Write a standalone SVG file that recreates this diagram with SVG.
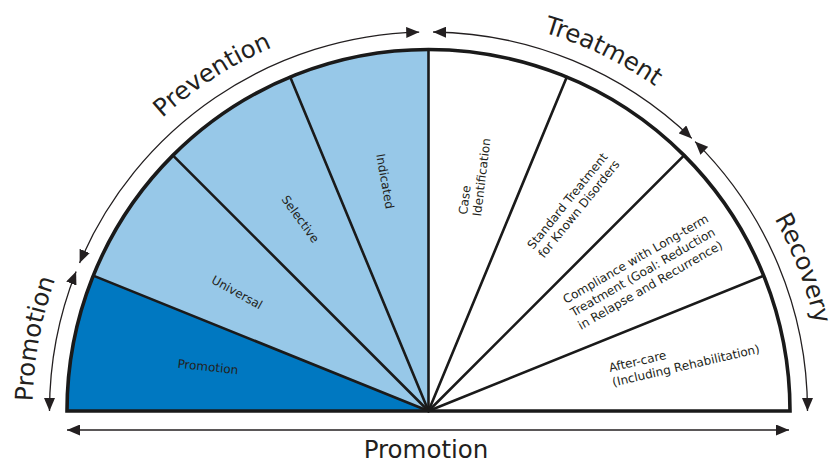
<svg xmlns="http://www.w3.org/2000/svg" width="837" height="462" viewBox="0 0 837 462">
<style>
.big{font-family:"DejaVu Sans",sans-serif;font-size:24.5px;fill:#231f20}
.lbl{font-family:"DejaVu Sans",sans-serif;font-size:12px;fill:#231f20}
.spoke{stroke:#1a1a1a;stroke-width:2.6;fill:none;stroke-linecap:round}
.arr{stroke:#231f20;stroke-width:1.3;fill:none;marker-start:url(#ah);marker-end:url(#ah)}
.dark{fill:#0078c1}
.light{fill:#97c8e8}
.white{fill:#ffffff}
</style>
<defs>
<marker id="ah" markerUnits="userSpaceOnUse" markerWidth="13" markerHeight="11" viewBox="0 0 13 11" refX="13" refY="5.5" orient="auto-start-reverse"><path d="M0,0 L13,5.5 L0,11 Z" fill="#231f20"/></marker>
<path id="tp" d="M 32.5 411 A 396 396 0 0 1 824.5 411"/>
</defs>
<rect width="837" height="462" fill="#ffffff"/>

<g id="sector-promotion">
<path class="dark" d="M428.5 411 L67 411 A361.5 361.5 0 0 1 93.3 275.6 Z"/>
<text class="lbl" transform="translate(207.5 371) rotate(6)" text-anchor="middle">Promotion</text>
</g>
<g id="sector-universal">
<path class="light" d="M428.5 411 L93.3 275.6 A361.5 361.5 0 0 1 172.9 155.4 Z"/>
<text class="lbl" transform="translate(235 296) rotate(29)" text-anchor="middle">Universal</text>
</g>
<g id="sector-selective">
<path class="light" d="M428.5 411 L172.9 155.4 A361.5 361.5 0 0 1 290.2 77 Z"/>
<text class="lbl" transform="translate(297 221.5) rotate(54)" text-anchor="middle">Selective</text>
</g>
<g id="sector-indicated">
<path class="light" d="M428.5 411 L290.2 77 A361.5 361.5 0 0 1 428.5 49.5 Z"/>
<text class="lbl" transform="translate(381 182) rotate(80)" text-anchor="middle">Indicated</text>
</g>
<g id="sector-case-identification">
<path class="white" d="M428.5 411 L428.5 49.5 A361.5 361.5 0 0 1 566.8 77 Z"/>
<text class="lbl" transform="translate(467 215) rotate(-83)"><tspan x="0" y="0">Case</tspan><tspan x="0" dy="14">Identification</tspan></text>
</g>
<g id="sector-standard-treatment">
<path class="white" d="M428.5 411 L566.8 77 A361.5 361.5 0 0 1 684.1 155.4 Z"/>
<text class="lbl" transform="translate(533 250) rotate(-51)"><tspan x="0" y="0">Standard Treatment</tspan><tspan x="0" dy="14">for Known Disorders</tspan></text>
</g>
<g id="sector-compliance">
<path class="white" d="M428.5 411 L684.1 155.4 A361.5 361.5 0 0 1 763.7 275.6 Z"/>
<text class="lbl" transform="translate(566 304) rotate(-30)"><tspan x="0" y="0">Compliance with Long-term</tspan><tspan x="0" dy="15">Treatment (Goal: Reduction</tspan><tspan x="0" dy="15">in Relapse and Recurrence)</tspan></text>
</g>
<g id="sector-after-care">
<path class="white" d="M428.5 411 L763.7 275.6 A361.5 361.5 0 0 1 790 411 Z"/>
<text class="lbl" transform="translate(610 372) rotate(-13)"><tspan x="0" y="0">After-care</tspan><tspan x="0" dy="15">(Including Rehabilitation)</tspan></text>
</g>

<g id="dividers">
<line class="spoke" x1="428.5" y1="411" x2="93.3" y2="275.6"/>
<line class="spoke" x1="428.5" y1="411" x2="172.9" y2="155.4"/>
<line class="spoke" x1="428.5" y1="411" x2="290.2" y2="77"/>
<line class="spoke" x1="428.5" y1="411" x2="428.5" y2="49.5"/>
<line class="spoke" x1="428.5" y1="411" x2="566.8" y2="77"/>
<line class="spoke" x1="428.5" y1="411" x2="684.1" y2="155.4"/>
<line class="spoke" x1="428.5" y1="411" x2="763.7" y2="275.6"/>
<path d="M67 411 A361.5 361.5 0 0 1 790 411 Z" fill="none" stroke="#1a1a1a" stroke-width="3.6" stroke-linejoin="miter"/>
</g>

<g id="connectors">
<path class="arr" d="M49.5 411 A379 379 0 0 1 76.1 271.5"/>
<path class="arr" d="M79.6 262.9 A379 379 0 0 1 419.2 32.1"/>
<path class="arr" d="M433.1 32 A379 379 0 0 1 691.8 138.4"/>
<path class="arr" d="M695.1 141.6 A379 379 0 0 1 807.5 411"/>
<path class="arr" d="M67 430 L789 430"/>
</g>

<g id="phase-labels">
<text class="big"><textPath href="#tp" startOffset="5.8%" text-anchor="middle">Promotion</textPath></text>
<text class="big"><textPath href="#tp" startOffset="31.8%" text-anchor="middle">Prevention</textPath></text>
<text class="big"><textPath href="#tp" startOffset="64.4%" text-anchor="middle">Treatment</textPath></text>
<text class="big"><textPath href="#tp" startOffset="88.4%" text-anchor="middle">Recovery</textPath></text>
<text class="big" x="426" y="457.5" text-anchor="middle">Promotion</text>
</g>
</svg>
